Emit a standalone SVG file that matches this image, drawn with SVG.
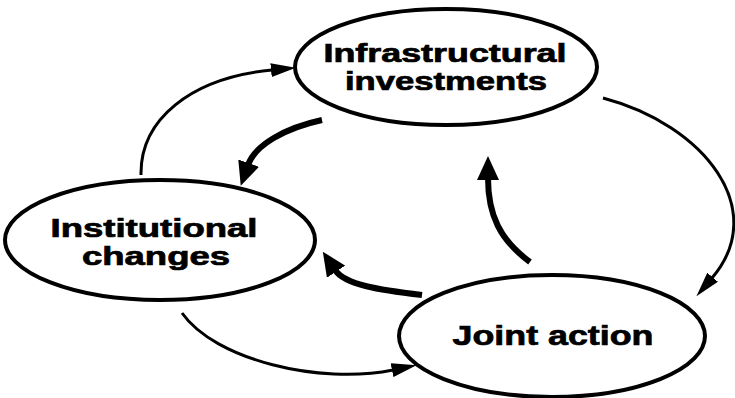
<svg xmlns="http://www.w3.org/2000/svg" width="735" height="398" viewBox="0 0 735 398">
  <style>
    .node { fill: #fff; stroke: #000; stroke-width: 4; }
    .label { font-family: "Liberation Sans", Arial, sans-serif; font-weight: bold; fill: #000; stroke: #000; stroke-width: 0.7; text-anchor: middle; }
    .thin { fill: none; stroke: #000; stroke-width: 3; marker-end: url(#headThin); }
    .thick { fill: none; stroke: #000; stroke-width: 6; marker-end: url(#headThick); }
  </style>
  <defs>
    <marker id="headThin" markerUnits="userSpaceOnUse" markerWidth="26" markerHeight="14" refX="1" refY="7" orient="auto" viewBox="0 0 26 14">
      <path d="M0,0 L25,7 L0,14 z" fill="#000"/>
    </marker>
    <marker id="headThick" markerUnits="userSpaceOnUse" markerWidth="24" markerHeight="22" refX="2" refY="11" orient="auto" viewBox="0 0 24 22">
      <path d="M0,0 L24,11 L0,22 z" fill="#000"/>
    </marker>
  </defs>
  <rect width="735" height="398" fill="#fff"/>

  <g id="connectors">
    <path class="thin" d="M141,175 C140,120 190,78 272,70"/>
    <path class="thin" d="M603,98 C705,125 770,210 712,278"/>
    <path class="thin" d="M182,313 C215,360 320,385 393,370"/>
    <path class="thick" d="M322,120 C285,128 255,145 248,165"/>
    <path class="thick" d="M422,295 C380,290 345,285 335,270"/>
    <path class="thick" d="M530,262 C500,240 488,215 488,178"/>
  </g>

  <g id="infrastructural-investments">
    <ellipse class="node" cx="446" cy="67" rx="151" ry="58"/>
    <text class="label" x="445" y="62" font-size="25" textLength="243" lengthAdjust="spacingAndGlyphs">Infrastructural</text>
    <text class="label" x="446" y="90" font-size="25" textLength="202" lengthAdjust="spacingAndGlyphs">investments</text>
  </g>

  <g id="institutional-changes">
    <ellipse class="node" cx="160" cy="240" rx="155" ry="60"/>
    <text class="label" x="154" y="237" font-size="25" textLength="207" lengthAdjust="spacingAndGlyphs">Institutional</text>
    <text class="label" x="156" y="265" font-size="25" textLength="148" lengthAdjust="spacingAndGlyphs">changes</text>
  </g>

  <g id="joint-action">
    <ellipse class="node" cx="552" cy="336" rx="153" ry="61"/>
    <text class="label" x="553" y="345" font-size="28" textLength="201" lengthAdjust="spacingAndGlyphs">Joint action</text>
  </g>
</svg>
